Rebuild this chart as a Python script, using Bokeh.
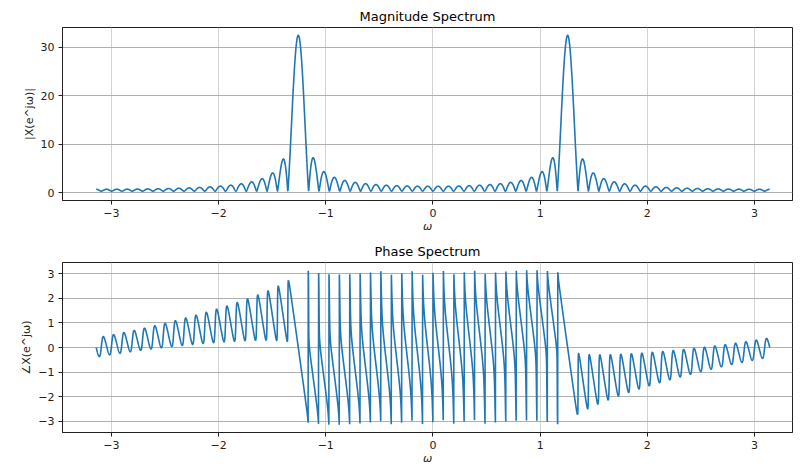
import numpy as np
from bokeh.plotting import figure
from bokeh.layouts import column
from bokeh.models import FixedTicker, CustomJSTickFormatter, Range1d
from bokeh.embed import file_html
from bokeh.resources import INLINE

# Signal definition: finite-length cosine x[n] = cos(omega0 * n), n = 0..N-1
N_SAMPLES = 64
OMEGA_0 = 0.4 * np.pi
N_FREQ = 5000

titles = ["Magnitude Spectrum", "Phase Spectrum"]
x_label = "ω"
y_labels = ["|X(e^jω)|", "∠X(e^jω)"]
x_ticks = [-3, -2, -1, 0, 1, 2, 3]
mag_ticks = [0, 10, 20, 30]
phase_ticks = [-3, -2, -1, 0, 1, 2, 3]

n = np.arange(N_SAMPLES)
x_sig = np.cos(OMEGA_0 * n)
omega = np.linspace(-np.pi, np.pi, N_FREQ)
X = np.exp(-1j * np.outer(omega, n)) @ x_sig
mag = np.abs(X)
phase = np.angle(X)

minus_fmt = CustomJSTickFormatter(code="return String(tick).replace('-', '\u2212');")

def make_fig(h, bt, bb, title, ylabel, yrange, yticks, ydata):
    p = figure(width=793, height=h, output_backend="svg", toolbar_location=None,
               x_range=Range1d(-1.1 * np.pi, 3.354), y_range=Range1d(*yrange),
               min_border_left=62, min_border_right=1, min_border_top=bt, min_border_bottom=bb,
               title=title)
    p.title.align = "center"
    p.title.text_font = "DejaVu Sans"
    p.title.text_font_size = "13px"
    p.title.text_font_style = "normal"
    p.title.text_color = "black"
    p.title.standoff = 7
    p.line(omega, ydata, line_color="#1f77b4", line_width=1.6)
    p.outline_line_color = "#222222"
    p.outline_line_width = 1
    p.background_fill_color = "white"
    p.border_fill_color = "white"
    p.xgrid.grid_line_color = "#d3d3d3"
    p.ygrid.grid_line_color = "#b0b0b0"
    p.xgrid.grid_line_width = 1
    p.ygrid.grid_line_width = 1
    p.xaxis.ticker = FixedTicker(ticks=x_ticks)
    p.yaxis.ticker = FixedTicker(ticks=yticks)
    for ax in (p.xaxis[0], p.yaxis[0]):
        ax.formatter = minus_fmt
        ax.minor_tick_line_color = None
        ax.major_tick_out = 4
        ax.major_tick_in = 0
        ax.axis_line_color = "#222222"
        ax.major_tick_line_color = "#222222"
        ax.major_label_text_font = "DejaVu Sans"
        ax.major_label_text_font_size = "11px"
        ax.major_label_text_color = "#222222"
        ax.axis_label_text_font = "DejaVu Sans"
        ax.axis_label_text_font_size = "11px"
        ax.axis_label_text_font_style = "normal"
        ax.axis_label_text_color = "#222222"
    p.xaxis.axis_label = x_label
    p.xaxis.axis_label_text_font_style = "italic"
    p.xaxis.major_label_standoff = 4
    p.xaxis.axis_label_standoff = 0
    p.yaxis.axis_label = ylabel
    p.yaxis.major_label_standoff = 4
    p.yaxis.axis_label_standoff = 2
    return p

mag_pad = 0.05 * mag.max()
p1 = make_fig(237, 27, 37, titles[0], y_labels[0], (-mag_pad, mag.max() + mag_pad), mag_ticks, mag)
p2 = make_fig(230, 25, 33, titles[1], y_labels[1], (-1.1 * np.pi, 1.1 * np.pi), phase_ticks, phase)

layout = column(p1, p2, spacing=0)
open("out.html", "w").write(file_html(layout, INLINE))
